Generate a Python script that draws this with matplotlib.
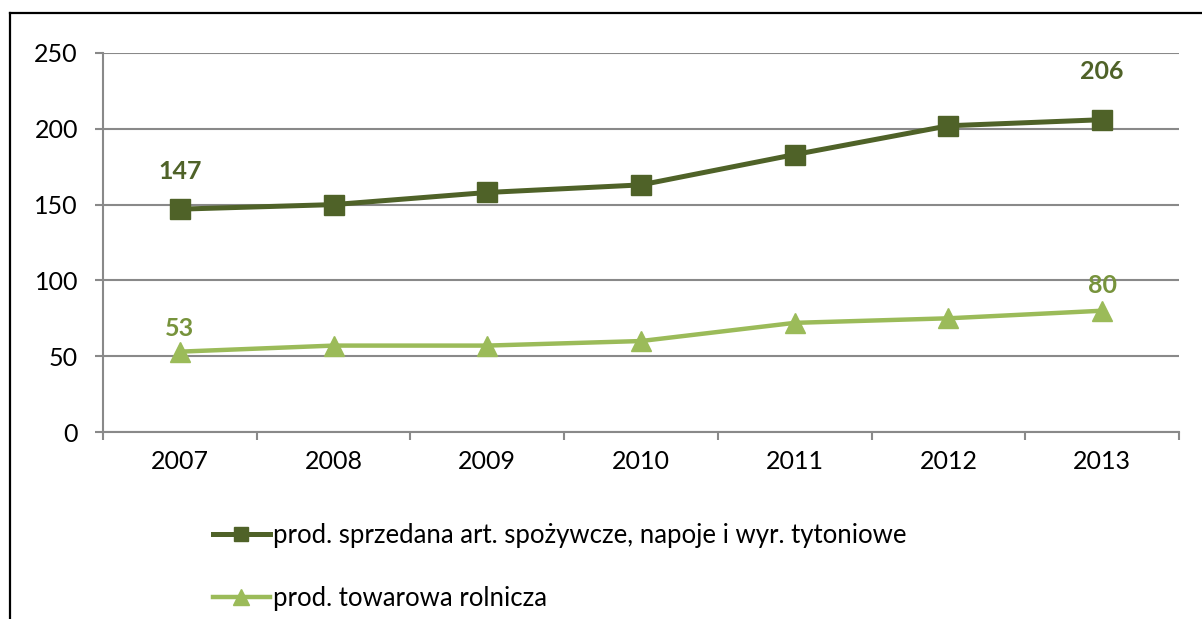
import matplotlib.pyplot as plt
from matplotlib.lines import Line2D

plt.rcParams['font.family'] = ['Lato', 'DejaVu Sans']

# 数据
years = ['2007', '2008', '2009', '2010', '2011', '2012', '2013']
food_values = [147, 150, 158, 163, 183, 202, 206]
agri_values = [53, 57, 57, 60, 72, 75, 80]
food_label = 'prod. sprzedana art. spożywcze, napoje i wyr. tytoniowe'
agri_label = 'prod. towarowa rolnicza'

dark_green = '#4F6228'
light_green = '#9BBB59'
label_green = '#77933C'
grid_gray = '#898989'

fig = plt.figure(figsize=(12.02, 6.19), dpi=100)
ax = fig.add_axes([103 / 1202, 1 - 432 / 619, (1179 - 103) / 1202, (432 - 53) / 619])

x = list(range(len(years)))
ax.plot(x, food_values, color=dark_green, lw=3.6, marker='s', markersize=14,
        label=food_label, zorder=4)
ax.plot(x, agri_values, color=light_green, lw=3.2, marker='^', markersize=15,
        label=agri_label, zorder=3)

# 数据标签（首尾）
for i, dy in [(0, 27), (len(years) - 1, 35)]:
    ax.annotate(str(food_values[i]), (x[i], food_values[i]), xytext=(0, dy),
                textcoords='offset points', ha='center', va='center',
                fontsize=18, fontweight='bold', color=dark_green)
for i, dy in [(0, 17), (len(years) - 1, 18)]:
    ax.annotate(str(agri_values[i]), (x[i], agri_values[i]), xytext=(0, dy),
                textcoords='offset points', ha='center', va='center',
                fontsize=18, fontweight='bold', color=label_green)

# 坐标轴
ax.set_xlim(-0.5, len(years) - 0.5)
ax.set_ylim(0, 250)
ax.set_yticks(range(0, 251, 50))
ax.set_xticks(x)
ax.set_xticklabels(years)
ax.set_xticks([i - 0.5 for i in range(len(years) + 1)], minor=True)
ax.tick_params(axis='x', which='major', length=0, pad=13, labelsize=18)
ax.tick_params(axis='x', which='minor', length=6, width=1.5, color=grid_gray, direction='out')
ax.tick_params(axis='y', length=6, width=1.5, color=grid_gray, direction='out',
               pad=12, labelsize=18)
ax.grid(axis='y', color=grid_gray, lw=1.5)
ax.set_axisbelow(True)
for side in ['top', 'right']:
    ax.spines[side].set_visible(False)
for side in ['left', 'bottom']:
    ax.spines[side].set_color(grid_gray)
    ax.spines[side].set_linewidth(1.5)

# 图例
fig.legend(loc='upper left', bbox_to_anchor=(213 / 1202, 1 - 523 / 619),
           frameon=False, fontsize=18.5, handlelength=2.2, handletextpad=0.15,
           labelspacing=1.46, borderpad=0, borderaxespad=0, markerscale=0.75)

# 外框（左、上）
fig.add_artist(Line2D([10.5 / 1202, 10.5 / 1202], [0, 1 - 12.5 / 619],
                      transform=fig.transFigure, color='black', lw=1.6))
fig.add_artist(Line2D([10.5 / 1202, 1], [1 - 12.5 / 619, 1 - 12.5 / 619],
                      transform=fig.transFigure, color='black', lw=1.6))

fig.savefig('out.png', dpi=100)
